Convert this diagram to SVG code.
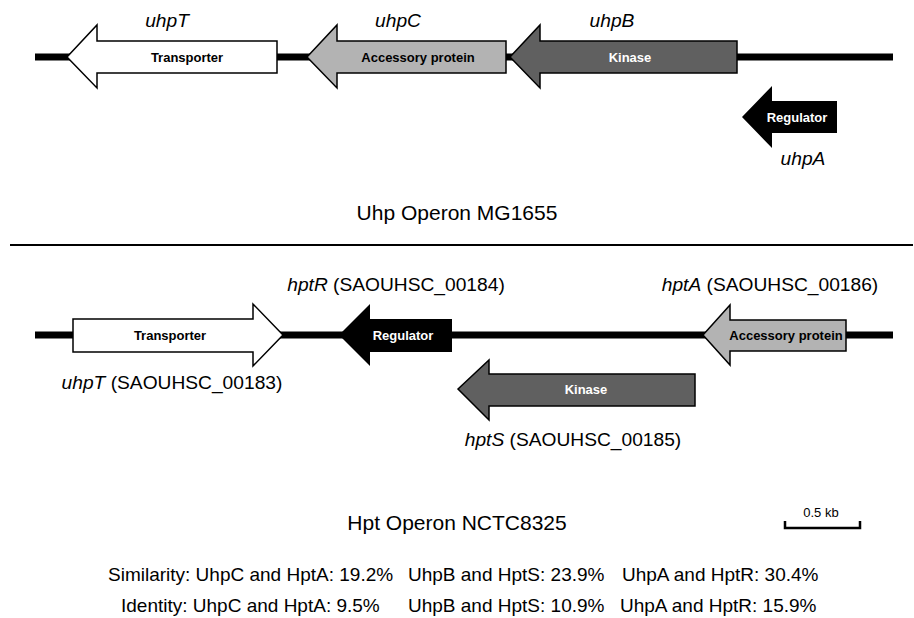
<svg xmlns="http://www.w3.org/2000/svg" width="914" height="618" viewBox="0 0 914 618">
<style>
text{font-family:"Liberation Sans",Arial,sans-serif;fill:#000}
.g{stroke:#000;stroke-width:1.5;stroke-linejoin:miter}
.w{fill:#fff}.l{fill:#b3b3b3}.d{fill:#606060}.b{fill:#000}
.bt{font-size:13px;font-weight:bold;text-anchor:middle}
.wt{fill:#fff}
.lab{font-size:19.2px;text-anchor:middle}
.it{font-style:italic}
.ti{font-size:21px;text-anchor:middle}
.st{font-size:19px}
</style>
<rect width="914" height="618" fill="#fff"/>
<g id="backbones">
<line x1="35" y1="57" x2="893" y2="57" stroke="#000" stroke-width="7"/>
<line x1="10" y1="245" x2="913" y2="245" stroke="#000" stroke-width="2"/>
<line x1="35" y1="335" x2="893" y2="335" stroke="#000" stroke-width="7"/>
</g>
<g id="uhpT">
<polygon class="g w" points="67,57 97,25 97,41 277,41 277,73 97,73 97,88"/>
<text class="bt" x="187" y="61.5">Transporter</text>
<text class="lab it" x="167" y="27">uhpT</text>
</g>
<g id="uhpC">
<polygon class="g l" points="307,57 337,25 337,41 506,41 506,73 337,73 337,88"/>
<text class="bt" x="418" y="61.5">Accessory protein</text>
<text class="lab it" x="398" y="27">uhpC</text>
</g>
<g id="uhpB">
<polygon class="g d" points="510,57 540,25 540,41 737,41 737,73 540,73 540,88"/>
<text class="bt wt" x="630" y="61.5">Kinase</text>
<text class="lab it" x="612" y="27">uhpB</text>
</g>
<g id="uhpA">
<polygon class="b" points="742,117 772,86 772,101 837,101 837,133 772,133 772,148"/>
<text class="bt wt" x="797" y="121.5">Regulator</text>
<text class="lab it" x="803" y="165">uhpA</text>
</g>
<text class="ti" x="457" y="220">Uhp Operon MG1655</text>
<g id="hpt-uhpT">
<polygon class="g w" points="283,335 253,304 253,319 73,319 73,352 253,352 253,366"/>
<text class="bt" x="170" y="339.5">Transporter</text>
<text class="lab" x="172" y="389"><tspan class="it">uhpT</tspan> (SAOUHSC_00183)</text>
</g>
<g id="hptR">
<polygon class="b" points="339,335 370,304 370,319 452,319 452,352 370,352 370,366"/>
<text class="bt wt" x="403" y="339.5">Regulator</text>
<text class="lab" x="396" y="291"><tspan class="it">hptR</tspan> (SAOUHSC_00184)</text>
</g>
<g id="hptA">
<polygon class="g l" points="703,335 730,305 730,320 846,320 846,351 730,351 730,365"/>
<text class="bt" x="786" y="339.5">Accessory protein</text>
<text class="lab" x="770" y="291"><tspan class="it">hptA</tspan> (SAOUHSC_00186)</text>
</g>
<g id="hptS">
<polygon class="g d" points="458,389 489,360 489,374 695,374 695,406 489,406 489,420"/>
<text class="bt wt" x="586" y="393.5">Kinase</text>
<text class="lab" x="573" y="446"><tspan class="it">hptS</tspan> (SAOUHSC_00185)</text>
</g>
<text class="ti" x="457" y="530">Hpt Operon NCTC8325</text>
<g id="scale">
<polyline points="785,521 785,528 860,528 860,521" fill="none" stroke="#000" stroke-width="2.5"/>
<text x="821" y="517" font-size="13" text-anchor="middle">0.5 kb</text>
</g>
<g id="stats">
<text class="st" x="108" y="581">Similarity: UhpC and HptA: 19.2%</text>
<text class="st" x="408" y="581">UhpB and HptS: 23.9%</text>
<text class="st" x="622" y="581">UhpA and HptR: 30.4%</text>
<text class="st" x="121" y="612">Identity: UhpC and HptA: 9.5%</text>
<text class="st" x="408" y="612">UhpB and HptS: 10.9%</text>
<text class="st" x="620" y="612">UhpA and HptR: 15.9%</text>
</g>
</svg>
